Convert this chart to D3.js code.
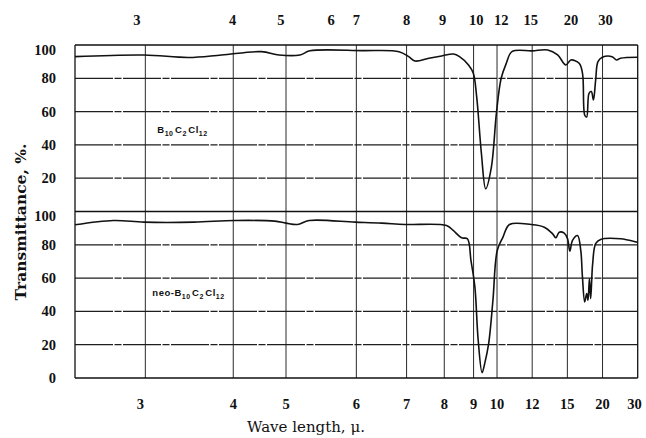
<!DOCTYPE html>
<html>
<head>
<meta charset="utf-8">
<script src="https://cdn.jsdelivr.net/npm/d3@7"></script>
<style>
  html, body { margin: 0; padding: 0; background: #fff; }
  svg { display: block; }
</style>
</head>
<body>
<div id="chart"></div>
<script>
// spectrum of B10C2Cl12 (upper panel), wavelength in microns vs transmittance %
const topWave  = [2.50, 2.99, 3.42, 3.83, 4.48, 4.84, 5.17, 5.30, 6.10, 6.83, 7.05, 7.20, 7.56, 7.92, 8.29, 8.49, 8.81, 8.99, 9.12, 9.31, 9.49, 9.74, 9.97, 10.20, 10.46, 10.76, 12.0, 13.16, 14.03, 14.84, 15.38, 16.37, 16.81, 17.12, 17.39, 17.73, 18.08, 18.41, 18.78, 19.17, 19.96, 22.0, 23.06, 24.1, 30.0];
const topTrans = [93, 94, 92.5, 94, 96, 94, 94, 96.5, 96.6, 96, 93, 90.4, 92, 93.4, 94.6, 93, 88, 83, 69, 35, 13.7, 26.7, 59, 80, 89, 96, 96.5, 97, 94, 88, 91, 89, 83, 57.8, 56.8, 71, 72, 67, 79, 90, 92.6, 93, 91, 92, 92.6];

// spectrum of neo-B10C2Cl12 (lower panel)
const botWave  = [2.50, 2.75, 2.99, 3.48, 4.02, 4.75, 5.00, 5.14, 5.29, 5.98, 6.47, 6.96, 8.07, 8.28, 8.56, 8.77, 8.90, 9.05, 9.18, 9.34, 9.45, 9.62, 9.81, 10.01, 10.29, 10.63, 11.93, 12.89, 13.58, 13.87, 14.18, 14.67, 15.02, 15.27, 15.57, 16.17, 16.58, 16.80, 17.11, 17.39, 17.58, 17.79, 17.98, 18.29, 18.78, 19.65, 24.1, 29.7, 30.0];
const botTrans = [92, 94.6, 93.6, 93.6, 94.6, 94.2, 93, 92.2, 94.6, 93.6, 93, 92.2, 91.6, 88.6, 84.2, 83.6, 70.7, 54.7, 22.8, 3.2, 8.8, 20.8, 46.7, 76.6, 84.6, 92.2, 92.2, 90.6, 86.6, 84.2, 87.6, 87, 83.6, 76.2, 82.6, 85.6, 76.6, 60.7, 45.7, 50.7, 46.7, 59.7, 47.7, 68.7, 80.7, 83.2, 83.6, 81.6, 81.5];

// grid and axis labels
const gridWaves = [3, 4, 5, 6, 7, 8, 9, 10, 12, 15, 20];
const bottomTicks = [3, 4, 5, 6, 7, 8, 9, 10, 12, 15, 20, 30];
const topTickLabels = ["3", "4", "5", "6", "7", "8", "9", "10", "12", "15", "20", "30"];
const topTickAt = [2.93, 3.99, 4.88, 5.6, 6, 7, 7.95, 9.1, 10.2, 11.9, 15.4, 20.6]; // where the printed upper labels fall
const yTicks = [0, 20, 40, 60, 80, 100];
const panelNames = [["B", "10", "C", "2", "Cl", "12"], ["neo-B", "10", "C", "2", "Cl", "12"]];

const W = 646, H = 438;
const margin = {top: 45, right: 8.3, bottom: 60, left: 75};
const iw = W - margin.left - margin.right;
const ih = H - margin.top - margin.bottom;
const ph = ih / 2;

// prism/grating chart: linear in wavenumber, scale doubled below 2000 cm-1
const nuEnd = 10000 / 30;
const brk = iw * 2000 / (2000 + 2 * (2000 - nuEnd));
const nuScale = d3.scaleLinear().domain([4000, 2000, nuEnd]).range([0, brk, iw]);
const x = function(w) { return nuScale(10000 / w); };
const y = d3.scaleLinear().domain([0, 100]).range([ph, 0]);

const svg = d3.select("#chart").append("svg")
  .attr("width", W).attr("height", H);

const g = svg.append("g").attr("transform", "translate(" + margin.left + "," + margin.top + ")");

const tickFont = "'Liberation Serif', 'Times New Roman', serif";
const titleFont = "'DejaVu Serif', serif";

// vertical grid
g.selectAll(".vgrid")
  .data(gridWaves)
  .enter().append("line")
  .attr("class", "vgrid")
  .attr("x1", d => x(d)).attr("x2", d => x(d))
  .attr("y1", 0).attr("y2", ih)
  .attr("stroke", "#2a2a2a")
  .attr("stroke-width", 1);

[0, 1].forEach(function(p) {
  const pg = g.append("g").attr("transform", "translate(0," + (p * ph) + ")");

  // horizontal grid
  pg.selectAll(".hgrid")
    .data([20, 40, 60, 80])
    .enter().append("line")
    .attr("x1", 0).attr("x2", iw)
    .attr("y1", d => y(d)).attr("y2", d => y(d))
    .attr("stroke", "#1e1e1e")
    .attr("stroke-width", 1.2)
    .attr("stroke-dasharray", "38,1.5,7,1.5");

  // y labels
  const labs = p == 0 ? yTicks.filter(d => d > 0) : yTicks;
  pg.selectAll(".ylab")
    .data(labs)
    .enter().append("text")
    .attr("x", -19)
    .attr("y", d => Math.max(y(d), 5))
    .attr("dy", "0.34em")
    .attr("text-anchor", "end")
    .attr("font-family", tickFont)
    .attr("font-weight", "bold")
    .attr("font-size", 14.5)
    .attr("fill", "#111")
    .text(d => d);

  // spectrum
  const wv = p == 0 ? topWave : botWave;
  const tr = p == 0 ? topTrans : botTrans;
  const line = d3.line()
    .x(d => x(d[0]))
    .y(d => y(d[1]))
    .curve(d3.curveCatmullRom.alpha(0.5));
  pg.append("path")
    .datum(d3.zip(wv, tr))
    .attr("d", line)
    .attr("fill", "none")
    .attr("stroke", "#111")
    .attr("stroke-width", 1.6)
    .attr("stroke-linejoin", "round");

  // compound name
  const nm = panelNames[p];
  const t = pg.append("text")
    .attr("x", p == 0 ? x(3) + 12 : x(3) + 7)
    .attr("y", p == 0 ? y(47) : y(49))
    .attr("font-family", "'Liberation Sans', Arial, sans-serif")
    .attr("font-weight", "bold")
    .attr("font-size", 9.5)
    .attr("letter-spacing", 0.5)
    .attr("fill", "#111");
  nm.forEach(function(s, i) {
    const sub = i % 2 == 1;
    t.append("tspan")
      .attr("font-size", sub ? 7 : 9.5)
      .attr("dy", sub ? 2.5 : (i == 0 ? 0 : -2.5))
      .attr("dx", i == 0 ? 0 : (sub ? 0 : 1.5))
      .text(s);
  });
});

// panel frames
g.selectAll(".hframe")
  .data([0, ph, ih])
  .enter().append("line")
  .attr("x1", 0).attr("x2", iw)
  .attr("y1", d => d).attr("y2", d => d)
  .attr("stroke", "#111")
  .attr("stroke-width", 1.7);
g.selectAll(".vframe")
  .data([0, iw])
  .enter().append("line")
  .attr("x1", d => d).attr("x2", d => d)
  .attr("y1", 0).attr("y2", ih)
  .attr("stroke", "#111")
  .attr("stroke-width", 1.3);

// bottom wavelength labels
g.selectAll(".xlab")
  .data(bottomTicks)
  .enter().append("text")
  .attr("x", d => d == 30 ? x(d) + 4 : (d == 3 ? x(d) - 5 : x(d)))
  .attr("y", ih + 31)
  .attr("text-anchor", d => d == 30 ? "end" : "middle")
  .attr("font-family", tickFont)
  .attr("font-weight", "bold")
  .attr("font-size", 14.5)
  .attr("fill", "#111")
  .text(d => d);

// top wavelength labels
g.selectAll(".toplab")
  .data(topTickLabels)
  .enter().append("text")
  .attr("x", (d, i) => x(topTickAt[i]))
  .attr("y", -20)
  .attr("text-anchor", "middle")
  .attr("font-family", tickFont)
  .attr("font-weight", "bold")
  .attr("font-size", 14.5)
  .attr("fill", "#111")
  .text(d => d);

// axis titles
svg.append("text")
  .attr("x", 306)
  .attr("y", 432)
  .attr("text-anchor", "middle")
  .attr("font-family", titleFont)
  .attr("font-size", 15)
  .attr("fill", "#111")
  .text("Wave length, \u03bc.");

svg.append("text")
  .attr("transform", "translate(26," + 222 + ") rotate(-90)")
  .attr("text-anchor", "middle")
  .attr("font-family", titleFont)
  .attr("font-weight", "bold")
  .attr("font-size", 15.5)
  .attr("fill", "#111")
  .text("Transmittance, %.");
</script>
</body>
</html>
